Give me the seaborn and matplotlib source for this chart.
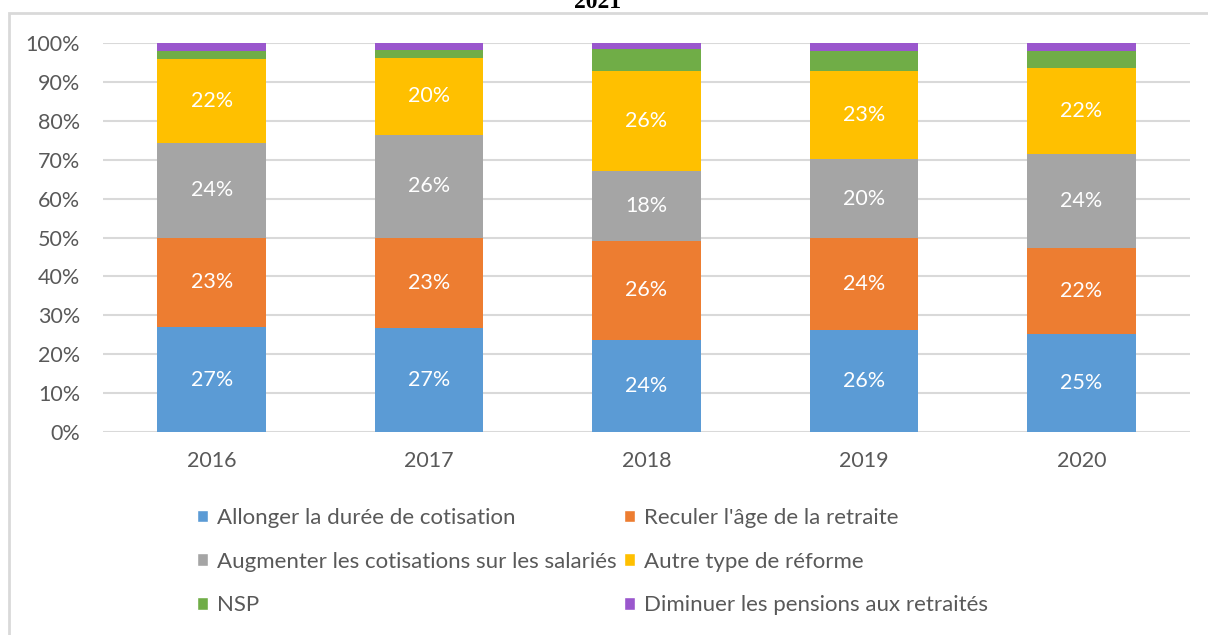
import matplotlib.pyplot as plt
from matplotlib.patches import Patch, Rectangle
import seaborn as sns
import numpy as np
import pandas as pd

# data (shares in %)
years = ["2016", "2017", "2018", "2019", "2020"]
allonger = [26.9, 26.7, 23.6, 26.2, 25.2]
reculer = [23.1, 23.3, 25.6, 23.6, 22.2]
augmenter = [24.2, 26.4, 18.0, 20.3, 24.1]
autre = [21.8, 19.7, 25.7, 22.6, 22.2]
nsp = [2.0, 2.0, 5.6, 5.3, 4.3]
diminuer = [2.0, 1.9, 1.5, 2.0, 2.0]

series_names = ["Allonger la durée de cotisation", "Reculer l'âge de la retraite",
                "Augmenter les cotisations sur les salariés", "Autre type de réforme",
                "NSP", "Diminuer les pensions aux retraités"]
series_values = [allonger, reculer, augmenter, autre, nsp, diminuer]
colors = ["#5B9BD5", "#ED7D31", "#A5A5A5", "#FFC000", "#70AD47", "#9A57CD"]
labeled = [True, True, True, True, False, False]

sns.set_style("white")
plt.rcParams['font.family'] = ['Lato', 'DejaVu Sans']
txt_color = "#595959"
fs = 15.5

fig = plt.figure(figsize=(12.08, 6.35), dpi=100)
W, H = 1208, 635
ax = fig.add_axes([103 / W, 1 - 432 / H, (1190 - 103) / W, (432 - 43) / H])

# chart border (Excel-like frame, cut at right/bottom)
fig.patches.append(Rectangle((9 / W, -0.1), 1.2, 1 - 13 / H + 0.1, transform=fig.transFigure,
                             fill=False, edgecolor="#D9D9D9", linewidth=2))

# stacked bars: draw cumulative totals from top to bottom
vals = np.array(series_values) / 100.0
cum = np.cumsum(vals, axis=0)
for i in range(len(series_names) - 1, -1, -1):
    df = pd.DataFrame({"year": years, "value": cum[i]})
    sns.barplot(data=df, x="year", y="value", color=colors[i], width=0.5,
                saturation=1, linewidth=0, ax=ax, zorder=3)

# value labels
for i in range(len(series_names)):
    if not labeled[i]:
        continue
    for j in range(len(years)):
        bottom = cum[i][j] - vals[i][j]
        ax.text(j, bottom + vals[i][j] / 2, f"{round(series_values[i][j]):.0f}%",
                ha="center", va="center", color="white", fontsize=fs, zorder=5)

ax.set_ylim(0, 1)
ax.set_xlim(-0.5, len(years) - 0.5)
ax.set_yticks(np.arange(0, 1.01, 0.1))
ax.set_yticklabels([f"{int(round(t * 100))}%" for t in np.arange(0, 1.01, 0.1)])
ax.yaxis.grid(True, color="#D9D9D9", linewidth=1.5, zorder=0)
ax.set_axisbelow(True)
for s in ax.spines.values():
    s.set_visible(False)
ax.tick_params(axis="y", length=0, pad=16.5, labelsize=fs, labelcolor=txt_color)
ax.tick_params(axis="x", length=0, pad=14, labelsize=fs, labelcolor=txt_color)
ax.set_xlabel("")
ax.set_ylabel("")

# legend in two columns placed like the original
col_idx = [[0, 2, 4], [1, 3, 5]]
col_x = [197, 624]
for c in range(2):
    handles = [Patch(facecolor=colors[k], edgecolor="white", label=series_names[k]) for k in col_idx[c]]
    leg = fig.legend(handles=handles, loc="upper left",
                     bbox_to_anchor=(col_x[c] / W, 1 - 508 / H), frameon=False,
                     fontsize=16, labelcolor=txt_color, handlelength=0.5, handleheight=0.5,
                     handletextpad=0.38, labelspacing=1.06, borderpad=0, borderaxespad=0)

# title, mostly cut off at the top
fig.text(598 / W, 1 - 8 / H, "2021", ha="center", va="baseline", fontsize=17,
         fontweight="bold", family="Liberation Serif", color="black")

fig.savefig("out.png", dpi=100)
